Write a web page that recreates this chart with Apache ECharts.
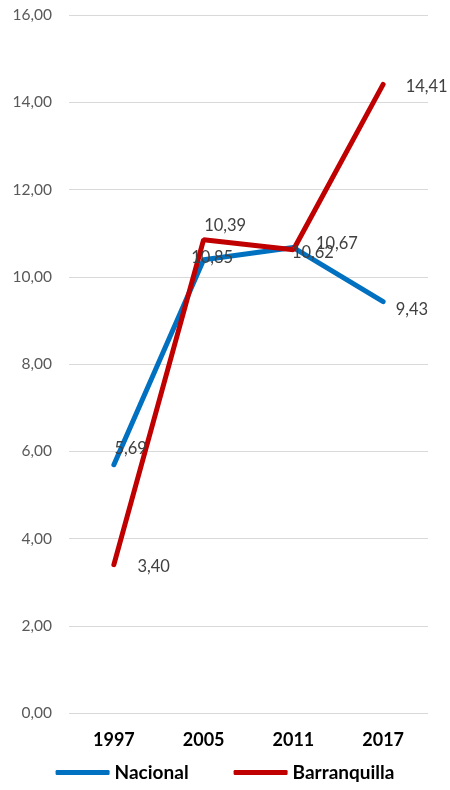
<!DOCTYPE html>
<html><head><meta charset="utf-8">
<script src="https://cdn.jsdelivr.net/npm/echarts@6/dist/echarts.min.js"></script>
<style>html,body{margin:0;padding:0;background:#fff}#c{width:450px;height:790px}</style>
</head><body><div id="c"></div>
<script>
const categories = ['1997','2005','2011','2017'];
const nacional = [5.69, 10.39, 10.67, 9.43];
const barranquilla = [3.40, 10.85, 10.62, 14.41];
const yTicks = {min:0, max:16, interval:2};
const nacLabelOffsets = [[0,-16],[0,-34],[22,-4],[12,8]];
const barLabelOffsets = [[23,2],[-13,18],[-2,3],[22,2]];
const fmt = v => v.toFixed(2).replace('.', ',');
const FONT = 'Lato';
function mk(vals, offs){
  return vals.map((v,i)=>({value:v,label:{offset:offs[i]}}));
}
const chart = echarts.init(document.getElementById('c'));
chart.setOption({
  animation:false,
  grid:{left:69,right:22,top:15,bottom:77},
  legend:{bottom:3,left:'center',itemWidth:54,itemHeight:5,itemGap:45,icon:'roundRect',
    textStyle:{fontFamily:FONT,fontWeight:'bold',fontSize:19,color:'#000'},
    data:['Nacional','Barranquilla']},
  xAxis:{type:'category',data:categories,boundaryGap:true,
    axisLine:{show:false},axisTick:{show:false},
    axisLabel:{fontFamily:FONT,fontWeight:'bold',fontSize:18,color:'#000',margin:18}},
  yAxis:{type:'value',min:yTicks.min,max:yTicks.max,interval:yTicks.interval,
    axisLine:{show:false},axisTick:{show:false},
    splitLine:{lineStyle:{color:'#d9d9d9',width:1}},
    axisLabel:{fontFamily:FONT,fontSize:15.5,color:'#595959',margin:17,formatter:v=>fmt(v)}},
  series:[
    {name:'Nacional',type:'line',data:mk(nacional,nacLabelOffsets),symbol:'circle',symbolSize:1,showSymbol:true,
      lineStyle:{color:'#0070C0',width:5,cap:'round'},itemStyle:{color:'#0070C0'},
      label:{show:true,position:'right',distance:0,fontFamily:FONT,fontSize:16.5,color:'#404040',formatter:p=>fmt(p.value)}},
    {name:'Barranquilla',type:'line',data:mk(barranquilla,barLabelOffsets),symbol:'circle',symbolSize:1,showSymbol:true,
      lineStyle:{color:'#C00000',width:5,cap:'round'},itemStyle:{color:'#C00000'},
      label:{show:true,position:'right',distance:0,fontFamily:FONT,fontSize:16.5,color:'#404040',formatter:p=>fmt(p.value)}}
  ]
});
</script></body></html>
